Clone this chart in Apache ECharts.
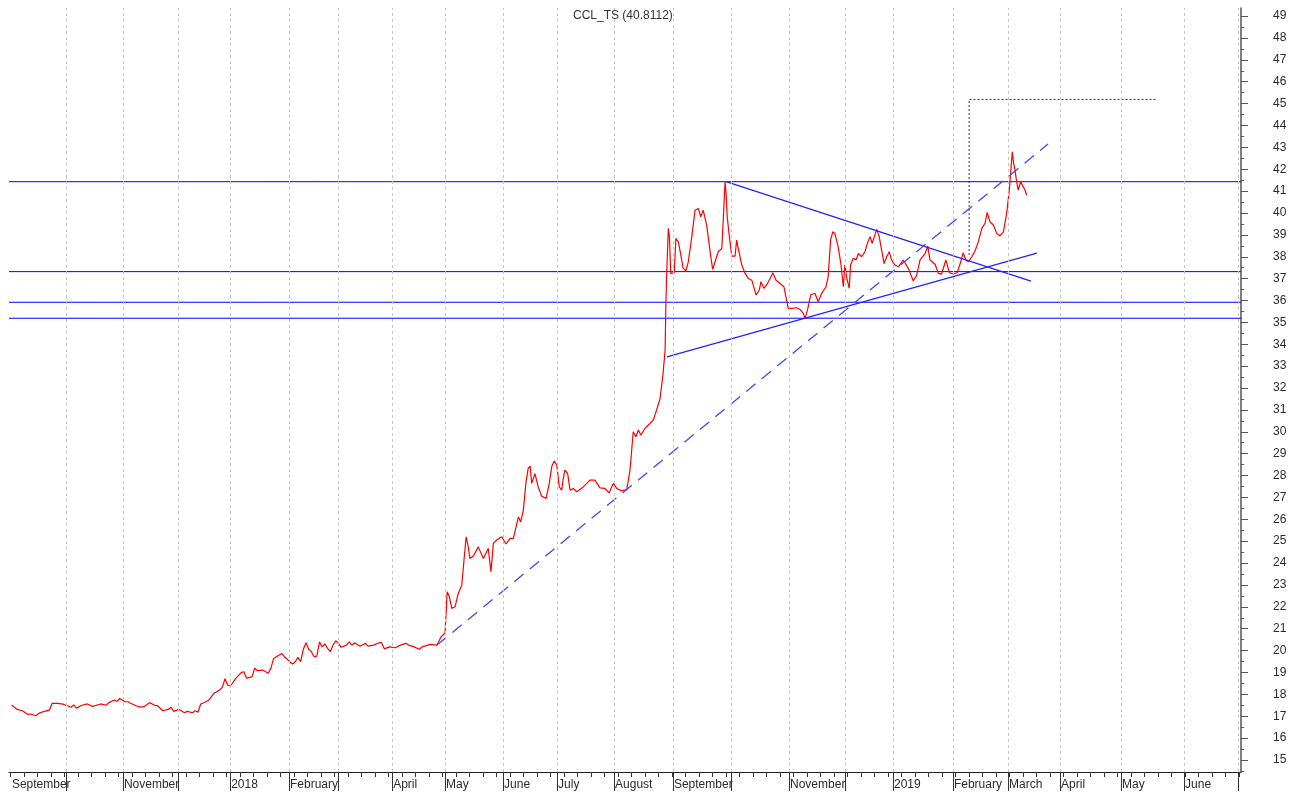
<!DOCTYPE html>
<html>
<head>
<meta charset="utf-8">
<title>CCL_TS</title>
<script src="https://cdn.jsdelivr.net/npm/echarts@6.0.0/dist/echarts.min.js"></script>
<style>
  html, body { margin: 0; padding: 0; background: #fff; }
  #chart { width: 1301px; height: 794px; }
</style>
</head>
<body>
<div id="chart"></div>
<script>
// x runs in trading days from the first bar (early September 2017)
const priceDays = [
  1, 3, 5, 7, 8, 10, 11, 13, 15, 16,
  18, 20, 21, 23, 24, 25, 27, 29, 31, 34,
  36, 37, 39, 40, 41, 43, 44, 45, 48, 50,
  52, 54, 55, 57, 59, 60, 61, 63, 65, 66,
  68, 69, 70, 71, 73, 74, 76, 78, 79, 80,
  81, 82, 84, 86, 87, 88, 90, 91, 92, 94,
  96, 97, 98, 101, 102, 105, 106, 107, 108, 109,
  110, 111, 112, 113, 114, 115, 116, 117, 118, 119,
  120, 121, 122, 123, 125, 126, 127, 128, 130, 132,
  133, 135, 137, 138, 139, 141, 143, 145, 147, 148,
  150, 152, 153, 156, 158.5, 160, 161.5, 162.3, 163.1, 164,
  165.2, 166.4, 167.7, 168.3, 169.3, 170.1, 170.7, 172, 173.8, 175.7,
  177.5, 178.5, 179.4, 180.6, 182.5, 184.1, 185.6, 186.8, 187.8, 188.7,
  189.5, 190.5, 191.5, 192.3, 193, 193.6, 194.8, 196, 197.3, 198.9,
  200.1, 201, 201.9, 202.9, 203.8, 204.7, 205.3, 205.9, 206.9, 207.8,
  209, 210.3, 212.7, 215.2, 217, 218.9, 220.7, 222.3, 223.8, 225.1,
  226.9, 228.8, 230, 231.2, 232.2, 233.1, 234, 235.6, 237.4, 238.6,
  239.6, 241.1, 242.2, 243, 243.3, 243.6, 244.2, 244.6, 245.1, 245.7,
  246.4, 247, 247.9, 248.5, 249.7, 250.7, 251.6, 252.9, 254.1, 255.3,
  256.2, 257.1, 258.4, 259.6, 260.6, 261.5, 262.7, 264, 264.6, 265.2,
  265.6, 266, 266.8, 267.7, 268.9, 269.5, 270.1, 271.4, 272.6, 273.8,
  275.1, 276.7, 277.9, 278.5, 279.6, 280.6, 281.9, 282.9, 284.1, 285.6,
  287, 288, 288.6, 289.9, 291.7, 293, 294.2, 294.8, 295.4, 296,
  296.9, 298.5, 299.7, 301, 302.6, 303.4, 304.3, 305.1, 305.9, 307.1,
  308.1, 309, 309.6, 310.3, 311.2, 311.7, 312.7, 313.7, 314.6, 315.8,
  317, 318.1, 318.9, 319.7, 320.5, 321.4, 322.3, 323.2, 324.1, 325.1,
  326, 326.9, 328.1, 329.4, 331.2, 333.1, 334.9, 336.2, 337.4, 339.3,
  340.3, 341.1, 343, 344.2, 345.4, 347, 348.3, 349.7, 351.2, 352.5,
  353.4, 354.4, 355.3, 356.6, 357.8, 359, 360.3, 361.5, 362.3, 363.3,
  364.6, 365.8, 367, 368.3, 369.5, 370.5, 371.1, 371.6, 372, 372.6,
  373.2, 373.8, 374.7, 375.4, 376.3, 376.9,
]

const priceValues = [
  17.51, 17.31, 17.25, 17.08, 17.10, 17.02, 17.13, 17.22, 17.28, 17.59,
  17.59, 17.55, 17.50, 17.41, 17.52, 17.37, 17.50, 17.56, 17.45, 17.56,
  17.50, 17.62, 17.74, 17.68, 17.81, 17.66, 17.66, 17.59, 17.43, 17.43,
  17.62, 17.50, 17.48, 17.25, 17.31, 17.41, 17.22, 17.31, 17.16, 17.22,
  17.16, 17.25, 17.18, 17.56, 17.66, 17.74, 18.05, 18.20, 18.32, 18.71,
  18.42, 18.38, 18.73, 18.99, 19.03, 18.74, 18.80, 19.19, 19.08, 19.11,
  18.96, 19.19, 19.64, 19.87, 19.72, 19.38, 19.49, 19.69, 19.49, 20.06,
  20.36, 20.06, 19.95, 19.72, 19.75, 20.40, 20.17, 20.30, 20.10, 19.95,
  20.25, 20.45, 20.33, 20.15, 20.25, 20.40, 20.25, 20.36, 20.20, 20.33,
  20.20, 20.25, 20.36, 20.36, 20.08, 20.17, 20.13, 20.25, 20.33, 20.25,
  20.17, 20.06, 20.17, 20.28, 20.25, 20.62, 20.80, 22.69, 22.46, 21.93,
  22.00, 22.62, 22.99, 23.83, 25.20, 24.74, 24.21, 24.32, 24.74, 24.21,
  24.67, 23.60, 24.90, 25.05, 25.20, 24.87, 25.13, 25.13, 25.65, 26.11,
  25.88, 26.42, 27.72, 28.33, 28.43, 27.64, 28.09, 27.48, 27.06, 26.95,
  27.64, 28.40, 28.67, 28.48, 27.48, 27.33, 27.87, 28.25, 28.10, 27.33,
  27.41, 27.26, 27.48, 27.79, 27.79, 27.44, 27.41, 27.21, 27.64, 27.41,
  27.30, 27.36, 28.25, 30.00, 29.77, 30.08, 29.85, 30.16, 30.38, 30.53,
  30.90, 31.50, 32.60, 33.73, 35.87, 37.24, 39.30, 38.92, 37.24, 37.16,
  37.27, 38.84, 38.68, 38.30, 37.47, 37.36, 37.77, 38.92, 40.13, 40.21,
  39.83, 40.13, 39.45, 38.30, 37.42, 37.77, 38.23, 38.38, 39.83, 41.43,
  40.90, 39.83, 38.92, 38.03, 38.03, 38.76, 38.38, 37.62, 37.24, 37.01,
  36.93, 36.25, 36.48, 36.86, 36.56, 36.71, 37.01, 37.27, 36.93, 36.78,
  36.63, 36.02, 35.64, 35.64, 35.67, 35.59, 35.41, 35.18, 35.41, 35.71,
  36.25, 36.33, 35.94, 36.33, 36.63, 37.09, 38.76, 39.14, 39.06, 38.45,
  37.69, 36.63, 37.62, 37.01, 36.56, 37.62, 37.93, 37.85, 38.15, 38.00,
  38.23, 38.68, 38.92, 38.62, 38.92, 39.25, 38.92, 38.30, 37.69, 38.00,
  38.23, 37.85, 37.62, 37.54, 37.85, 37.47, 36.90, 37.16, 37.85, 38.15,
  38.49, 37.85, 37.66, 37.24, 37.21, 37.85, 37.27, 37.21, 37.27, 37.77,
  38.18, 37.85, 37.77, 38.00, 38.27, 38.68, 39.30, 39.53, 40.03, 39.60,
  39.45, 39.07, 38.95, 39.14, 39.98, 41.05, 42.04, 42.80, 42.34, 41.96,
  41.43, 41.05, 41.43, 41.38, 41.05, 40.81,
]
const lastClose = 40.8112

// first trading day of each month, Oct 2017 .. Jul 2019
const monthStarts = [
  21.1, 42.2, 62.6, 81.9, 103.7, 121.9, 141.9, 161.5, 183, 203, 224.1,
  245.9, 267.4, 288.9, 309.6, 327.4, 349.6, 370, 389.3, 411.9, 435.2, 455.2,
]
const labelDays = [
  0.7, 42.2, 81.9, 103.7, 141.9, 161.5, 183, 203, 224.1, 245.9,
  288.9, 327.4, 349.6, 370, 389.3, 411.9, 435.2,
]
const labelNames = [
  'September', 'November', '2018', 'February', 'April', 'May', 'June', 'July', 'August', 'September',
  'November', '2019', 'February', 'March', 'April', 'May', 'June',
]
const priceTicks = [
  15, 16, 17, 18, 19, 20, 21, 22, 23, 24, 25, 26, 27, 28, 29, 30, 31, 32,
  33, 34, 35, 36, 37, 38, 39, 40, 41, 42, 43, 44, 45, 46, 47, 48, 49,
]

const levelLines = [41.43, 37.32, 35.92, 35.19]
const resistanceLine = [[265.6, 41.43], [378.5, 36.89]]
const supportLine = [[243.7, 33.42], [380.7, 38.17]]
const trendLine = [[158.5, 20.25], [384.8, 43.15]]
const targetLine = [[355.6, 38.08], [355.6, 45.19], [425.2, 45.19]]

const xMin = 0
const xMax = 456.3
const yMin = 14.45
const yMax = 49.37

const weekTicks = []
for (let d = 0.5; d < xMax; d += 5) weekTicks.push(d)
const halfTicks = priceTicks.map((v) => v - 0.5).concat([49.5]).filter((v) => v > yMin && v < yMax)

const font = 'Liberation Sans, Arial, sans-serif'
const labelColor = '#2b2b2b'
const plotBox = { left: 9, right: 60, top: 8, bottom: 22 }

const flatLine = (v) => ({
  type: 'line',
  z: 2,
  showSymbol: false,
  silent: true,
  data: [[xMin, v], [xMax, v]],
  lineStyle: { color: '#0000ff', width: 1 },
})

const option = {
  animation: false,
  backgroundColor: '#fff',
  textStyle: { fontFamily: font },
  title: {
    text: `CCL_TS (${lastClose})`,
    left: 573,
    top: 10,
    padding: 0,
    textStyle: { fontSize: 12, fontWeight: 'normal', color: '#333', fontFamily: font },
  },
  // second grid only carries the short half-unit ticks of the price axis
  grid: [{ ...plotBox }, { ...plotBox }],
  xAxis: [
    {
      type: 'value',
      gridIndex: 0,
      min: xMin,
      max: xMax,
      position: 'bottom',
      axisLine: { onZero: false, lineStyle: { color: '#222', width: 1 } },
      axisTick: { customValues: monthStarts, length: 19, lineStyle: { color: '#333', width: 1 } },
      axisLabel: {
        customValues: labelDays,
        formatter: (v) => labelNames[labelDays.indexOf(v)] ?? '',
        align: 'left',
        margin: 7,
        padding: [0, 0, 0, 1],
        fontSize: 12,
        color: labelColor,
        fontFamily: font,
      },
      splitLine: { show: false },
    },
    {
      type: 'value',
      gridIndex: 0,
      min: xMin,
      max: xMax,
      position: 'bottom',
      axisLine: { show: false, onZero: false },
      axisTick: { customValues: weekTicks, length: 5, lineStyle: { color: '#333', width: 1 } },
      axisLabel: { show: false },
      splitLine: { show: false },
    },
    {
      type: 'value',
      gridIndex: 1,
      min: xMin,
      max: xMax,
      show: false,
    },
  ],
  yAxis: [
    {
      type: 'value',
      gridIndex: 0,
      min: yMin,
      max: yMax,
      position: 'right',
      axisLine: { show: true, onZero: false, lineStyle: { color: '#555', width: 1.5 } },
      axisTick: { customValues: priceTicks, length: 7, lineStyle: { color: '#555', width: 1 } },
      axisLabel: {
        customValues: priceTicks,
        margin: 32,
        fontSize: 12,
        color: labelColor,
        fontFamily: font,
      },
      splitLine: { show: false },
    },
    {
      type: 'value',
      gridIndex: 1,
      min: yMin,
      max: yMax,
      position: 'right',
      axisLine: { show: false, onZero: false },
      axisTick: { customValues: halfTicks, length: 3, lineStyle: { color: '#555', width: 1 } },
      axisLabel: { show: false },
      splitLine: { show: false },
    },
  ],
  series: [
    {
      name: 'months',
      type: 'line',
      data: [],
      z: 1,
      markLine: {
        silent: true,
        symbol: ['none', 'none'],
        label: { show: false },
        lineStyle: { color: '#c4c4c4', type: [3, 3], width: 1 },
        data: monthStarts.map((d) => ({ xAxis: d })),
      },
    },
    ...levelLines.map(flatLine),
    {
      name: 'CCL_TS',
      type: 'line',
      z: 3,
      showSymbol: false,
      data: priceDays.map((d, i) => [d, priceValues[i]]),
      lineStyle: { color: '#ff0000', width: 1.2 },
    },
    {
      name: 'resistance',
      type: 'line',
      z: 4,
      showSymbol: false,
      data: resistanceLine,
      lineStyle: { color: '#2323ff', width: 1.3 },
    },
    {
      name: 'support',
      type: 'line',
      z: 4,
      showSymbol: false,
      data: supportLine,
      lineStyle: { color: '#2323ff', width: 1.3 },
    },
    {
      name: 'trend',
      type: 'line',
      z: 4,
      showSymbol: false,
      data: trendLine,
      lineStyle: { color: '#4545ff', width: 1.3, type: [12, 8] },
    },
    {
      name: 'target',
      type: 'line',
      z: 4,
      showSymbol: false,
      data: targetLine,
      lineStyle: { color: '#2020d8', width: 1, type: [2, 2] },
    },
  ],
}

const chart = echarts.init(document.getElementById('chart'))
chart.setOption(option)
</script>
</body>
</html>
